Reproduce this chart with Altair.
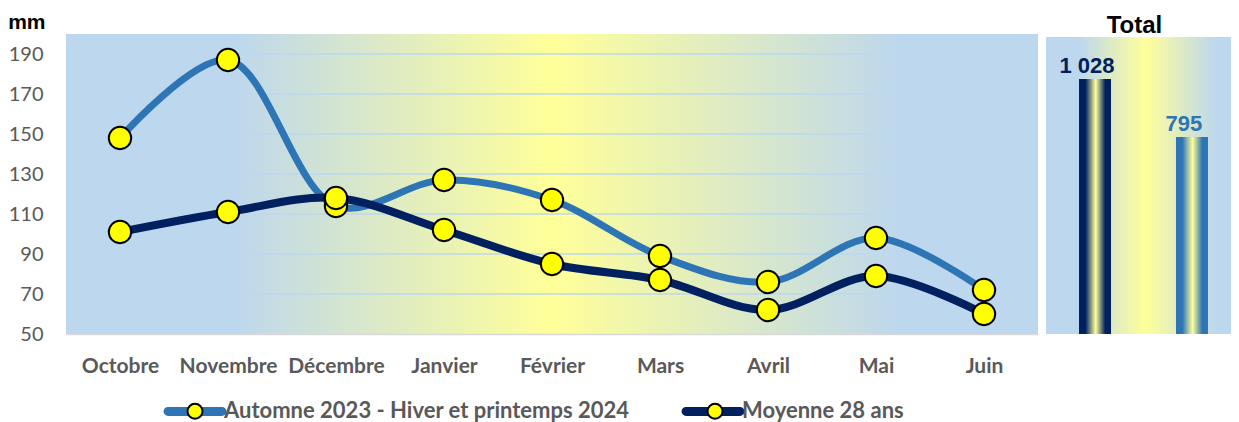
import altair as alt
import pandas as pd

months = ["Octobre", "Novembre", "Décembre", "Janvier", "Février", "Mars", "Avril", "Mai", "Juin"]
series_names = ["Automne 2023 - Hiver et printemps 2024", "Moyenne 28 ans"]
automne = [148, 187, 114, 127, 117, 89, 76, 98, 72]
moyenne = [101, 111, 118, 102, 85, 77, 62, 79, 60]
y_ticks = [50, 70, 90, 110, 130, 150, 170, 190]
series_colors = ["#2e75b6", "#002060"]
total_colors = ["#002060", "#2e75b6"]

rows = []
for name, vals in zip(series_names, [automne, moyenne]):
    for m, v in zip(months, vals):
        rows.append({"mois": m, "serie": name, "serie2": name + "#", "mm": v})
df = pd.DataFrame(rows)
grid_df = pd.DataFrame({"v": y_ticks[1:]})
one = pd.DataFrame({"a": [0]})

W, H = 972, 300
TW = 185
BLUE = "#bdd7ee"
YEL = "#ffff99"
GRAY = "#595959"


def hgrad(stops):
    return alt.Gradient(gradient="linear", x1=0, x2=1, y1=0, y2=0,
                        stops=[alt.GradientStop(offset=o, color=c) for o, c in stops])


bg_main = alt.Chart(one).mark_rect(
    fill=hgrad([(0, BLUE), (0.17, BLUE), (0.5, YEL), (0.86, BLUE), (1, BLUE)])
).encode(x=alt.value(0), x2=alt.value(W), y=alt.value(0), y2=alt.value(H))

y_axis = alt.Axis(title=None, values=y_ticks, domain=False, ticks=False, grid=False,
                  labelFont="Lato", labelFontSize=20, labelColor=GRAY, labelPadding=23)
y_scale = alt.Scale(domain=[50, 200], nice=False, zero=False)
x_axis = alt.Axis(title=None, labelAngle=0, ticks=False, grid=False, labelFont="Lato",
                  labelFontSize=21, labelFontWeight="bold", labelColor=GRAY, labelPadding=21,
                  domainColor="#d9d9d9", domainWidth=1.5, zindex=1)
x_enc = alt.X("mois:N", sort=months, scale=alt.Scale(type="point", padding=0.5), axis=x_axis)

grid = alt.Chart(grid_df).mark_rule(color=BLUE, strokeWidth=1.5).encode(
    y=alt.Y("v:Q", scale=y_scale, axis=y_axis))

leg_common = dict(orient="none", legendX=118, legendY=366, direction="horizontal", title=None,
                  symbolSize=225, labelOffset=18, labelFont="Lato",
                  labelFontSize=22, labelFontWeight="bold", labelColor=GRAY, labelLimit=0,
                  padding=0, labelExpr="replace(datum.label, '#', '')")

capsule = "M-3.6,-0.3L3.6,-0.3A0.3,0.3 0 0 1 3.6,0.3L-3.6,0.3A0.3,0.3 0 0 1 -3.6,-0.3Z"

lines = alt.Chart(df).mark_line(interpolate="catmull-rom", strokeCap="round").encode(
    x=x_enc,
    y=alt.Y("mm:Q", scale=y_scale, axis=y_axis),
    color=alt.Color("serie:N", scale=alt.Scale(domain=series_names, range=series_colors),
                    legend=alt.Legend(symbolType=capsule, symbolStrokeWidth=4.4,
                                      columnPadding=44, **leg_common)),
    strokeWidth=alt.StrokeWidth("serie:N", scale=alt.Scale(domain=series_names, range=[7, 8]),
                                legend=None),
)

dom2 = [n + "#" for n in series_names]
circle_legend = dict(symbolType="circle", symbolStrokeWidth=2, labelOpacity=0, columnPadding=73,
                     **leg_common)
points = alt.Chart(df).mark_point(filled=True, strokeWidth=2, size=500, opacity=1).encode(
    x=x_enc,
    y=alt.Y("mm:Q", scale=y_scale, axis=y_axis),
    fill=alt.Fill("serie2:N", scale=alt.Scale(domain=dom2, range=["#ffff00", "#ffff00"]),
                  legend=alt.Legend(**circle_legend)),
    stroke=alt.Stroke("serie2:N", scale=alt.Scale(domain=dom2, range=["#000000", "#000000"]),
                      legend=alt.Legend(**circle_legend)),
)

main = alt.layer(bg_main, grid, lines, points).properties(
    width=W, height=H,
    title=alt.TitleParams("mm", anchor="start", frame="bounds", font="Liberation Sans",
                          fontSize=21, fontWeight="bold", color="black", offset=3, dy=2),
)

# Total panel
bg_tot = alt.Chart(one).mark_rect(
    fill=hgrad([(0, BLUE), (0.18, BLUE), (0.535, YEL), (0.92, BLUE), (1, BLUE)])
).encode(x=alt.value(0), x2=alt.value(TW), y=alt.value(3), y2=alt.value(H))

tot_base = alt.Chart(df).transform_aggregate(
    total="sum(mm)", groupby=["serie"]
).transform_calculate(label="replace(format(datum.total, ',d'), ',', ' ')")
tx = alt.X("serie:N", scale=alt.Scale(domain=series_names, paddingInner=0.67, paddingOuter=0.289),
           axis=None)
ty = alt.Y("total:Q", scale=alt.Scale(domain=[0, 1210], nice=False), axis=None)

tot_layers = [bg_tot]
for name, col in zip(series_names, total_colors):
    sub = tot_base.transform_filter(alt.datum.serie == name)
    tot_layers.append(sub.mark_bar(xOffset=5, fill=hgrad([(0, col), (0.2, col), (0.52, YEL), (0.82, col), (1, col)])).encode(x=tx, y=ty))
    tot_layers.append(sub.mark_text(font="Liberation Sans", fontSize=22, fontWeight="bold",
                                    baseline="bottom", dy=-1, dx=-3, color=col).encode(x=tx, y=ty, text="label:N"))

total = alt.layer(*tot_layers).properties(
    width=TW, height=H,
    title=alt.TitleParams("Total", anchor="middle", font="Liberation Sans", fontSize=24,
                          fontWeight="bold", color="black", offset=-4, dx=-4),
)

chart = alt.hconcat(main, total, spacing=8, bounds="flush").resolve_legend(
    color="independent", fill="independent", stroke="independent"
).resolve_scale(color="independent", fill="independent", stroke="independent",
                x="independent", y="independent").properties(
    padding={"top": 4, "left": 0, "right": 0, "bottom": 0}, background="white"
).configure_view(stroke=None)

chart.save("out.html", embed_options={"renderer": "svg", "actions": False})
